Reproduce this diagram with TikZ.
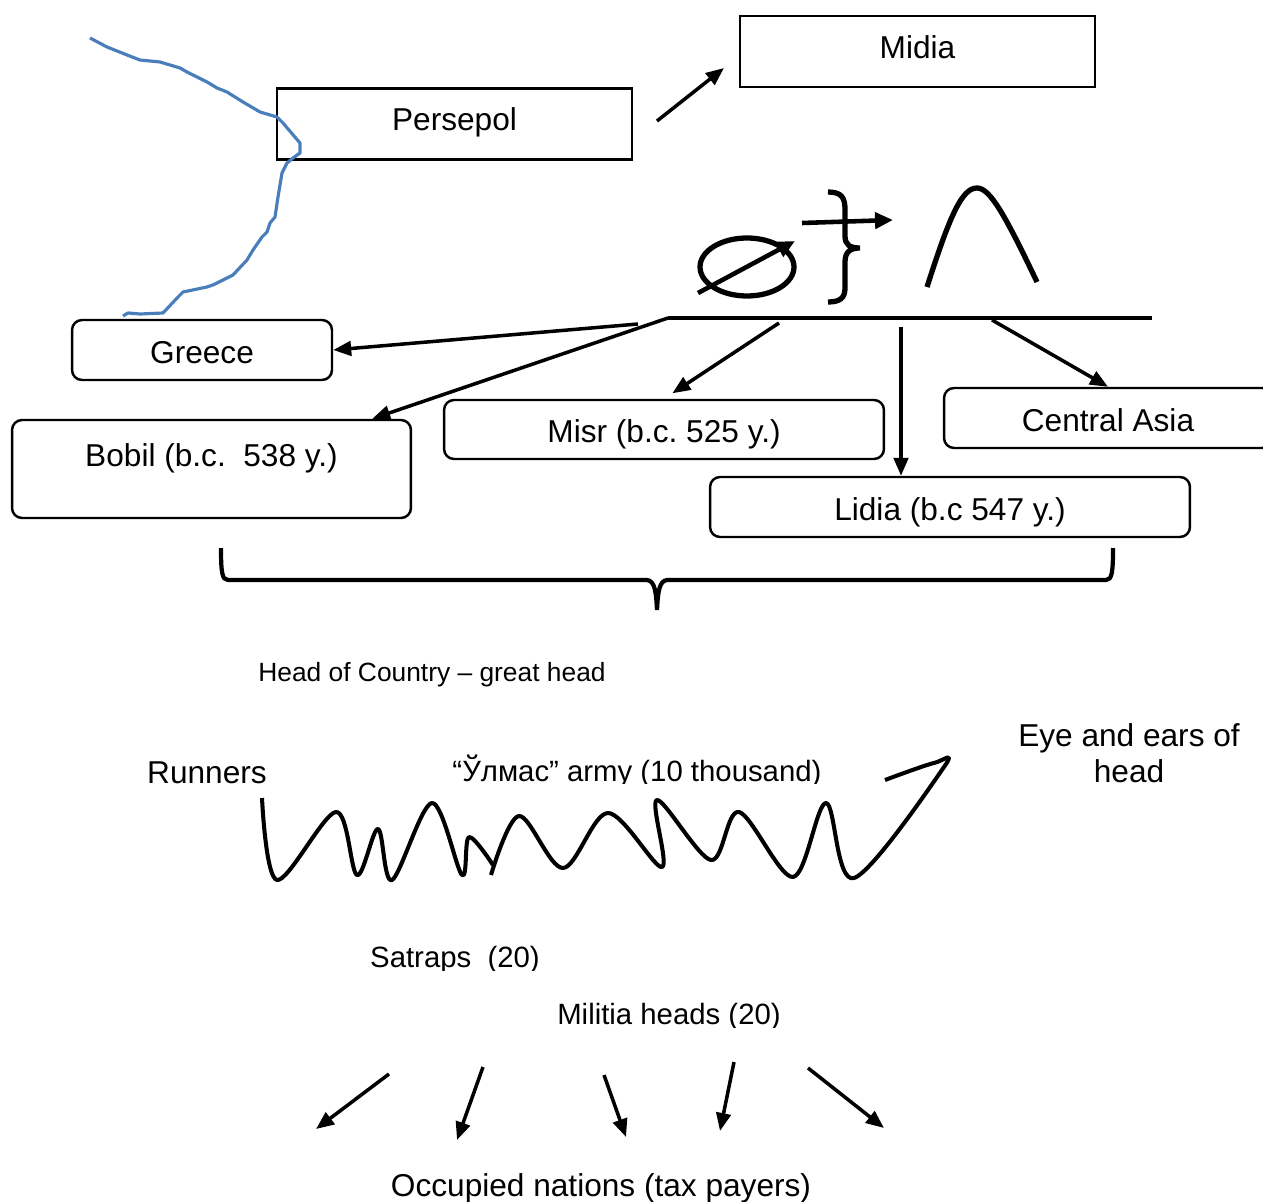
\documentclass[tikz,border=0pt]{standalone}
\usepackage{fontspec}
\setmainfont{Liberation Sans}
\usetikzlibrary{arrows.meta,positioning,calc}
\definecolor{river}{RGB}{74,126,187}
\frenchspacing

\begin{document}
\begin{tikzpicture}[
  x=0.02cm, y=-0.02cm,
  every node/.style={font=\fontsize{18}{21}\selectfont},
  sq/.style={draw,line width=1.5pt,minimum width=7.1cm,minimum height=1.42cm,text height=0.5cm,text depth=0.22cm},
  rbox/.style={draw,rounded corners=0.2cm,line width=1.4pt,minimum height=1.2cm,text height=0.66cm,text depth=0.12cm},
  lbl/.style={font=\fontsize{16.7}{20}\selectfont},
  ar/.style={-{Triangle[length=0.36cm,width=0.29cm]},line width=2pt},
  sym/.style={line width=3pt},
  symar/.style={line width=2.6pt,-{Triangle[length=0.36cm,width=0.32cm]}}
]
\useasboundingbox (0,0) rectangle (1263,1202);
\node[sq] (persepol) at (454.5,124) {Persepol};
\node[sq] (midia) at (917.5,51.5) {Midia};
\node[rbox,minimum width=5.2cm] (greece) at (202,350) {Greece};
\node[rbox,minimum width=7.98cm,minimum height=1.96cm,text height=0.5cm,text depth=0.6cm] (bobil) at (211.5,469) {Bobil (b.c.\ \ 538 y.)};
\node[rbox,minimum width=8.8cm,minimum height=1.18cm] (misr) at (664,429.5) {Misr (b.c. 525 y.)};
\node[rbox,minimum width=6.56cm] (casia) at (1108,418) {Central Asia};
\node[rbox,minimum width=9.6cm] (lidia) at (950,507) {Lidia (b.c 547 y.)};
\node[font=\fontsize{15}{18}\selectfont] (headc) at (432,675) {Head of Country – great head};
\node (runners) at (207,773) {Runners};
\node[align=center,font=\fontsize{18}{20.5}\selectfont] (eyes) at (1129,753) {Eye and ears of\\head};
\begin{scope}
\clip (0,0) rectangle (1263,783);
\node[lbl] (army) at (637,771) {“Ўлмас” army (10 thousand)};
\end{scope}
\begin{scope}
\clip (0,900) rectangle (1263,970);
\node[lbl] (satraps) at (455,960) {Satraps\ \ (20)};
\end{scope}
\begin{scope}
\clip (0,990) rectangle (1263,1027);
\node[lbl] (militia) at (669,1017) {Militia heads (20)};
\end{scope}
\node (occupied) at (601,1188) {Occupied nations (tax payers)};
\coordinate (pm) at (657,121);
\coordinate (mp) at (724,68);
\coordinate (bl) at (668,318);
\coordinate (br) at (1152,318);
\coordinate (sg) at (638,324);
\coordinate (sm) at (779,323);
\coordinate (sl) at (901,327);
\coordinate (sc) at (992,320);
\draw[ar] (pm) -- (mp);
\draw[line width=2.2pt] (bl) -- (br);
\draw[ar] (sg) -- (greece.east);
\draw[ar] (bl) -- ([xshift=-0.8cm]bobil.north east);
\draw[ar,shorten >=0.2cm] (sm) -- (misr.north);
\draw[ar] (sl) -- (sl |- lidia.north);
\draw[ar] (sc) -- (casia.north);
\draw[river,line width=1.8pt,line join=round] plot coordinates {(90,38) (107,47) (127,55) (140,60) (160,62) (180,68) (187,72) (207,82) (217,88) (227,92) (243,102) (260,112) (277,117) (283,123) (300,143) (300,153) (293,158) (287,163) (282,173) (278,197) (275,217) (270,223) (267,232) (262,237) (253,250) (247,260) (233,275) (213,285) (207,287) (183,292) (178,297) (163,313) (140,314) (128,313) (123,316)};
\draw[sym] (747,267) ellipse [x radius=0.94cm, y radius=0.58cm];
\coordinate (e1) at (698,293);
\coordinate (e2) at (795,241);
\draw[symar] (e1) -- (e2);
\coordinate (k1) at (802,223);
\coordinate (k2) at (893,220);
\draw[symar] (k1) -- (k2);
\draw[sym] (828,192) .. controls (842,192) and (845,198) .. (845,210) -- (845,236) .. controls (845,245) and (850,248) .. (860,248) .. controls (850,248) and (845,252) .. (845,262) -- (845,288) .. controls (845,298) and (840,302) .. (828,302);
\draw[sym] (927,287) .. controls (950,215) and (962,188) .. (977,188) .. controls (990,188) and (1005,215) .. (1037,282);
\draw[line width=2.4pt] (221,548) .. controls (221,572) and (222,580) .. (228,580) -- (647,580) .. controls (655,581) and (656,592) .. (657,610) .. controls (658,592) and (659,581) .. (667,580) -- (1106,580) .. controls (1112,580) and (1113,572) .. (1113,548);
\draw[line width=2.3pt,line join=round] plot[smooth,tension=0.55] coordinates {(262,798) (277,880) (336,812) (357,875) (378,829) (392,880) (432,803) (462,875) (469,837) (493,865)};
\draw[line width=2.3pt,line join=round] plot[smooth,tension=0.55] coordinates {(491,875) (519,816) (563,868) (608,813) (662,867) (657,800) (711,860) (739,812) (793,877) (826,803) (854,878) (944,767) (934,763) (885,780)};
\coordinate (t1) at (389,1074);
\coordinate (h1) at (316,1129);
\coordinate (t2) at (483,1067);
\coordinate (h2) at (457,1140);
\coordinate (t3) at (604,1075);
\coordinate (h3) at (626,1137);
\coordinate (t4) at (734,1062);
\coordinate (h4) at (720,1131);
\coordinate (t5) at (808,1068);
\coordinate (h5) at (884,1128);
\draw[ar] (t1) -- (h1);
\draw[ar] (t2) -- (h2);
\draw[ar] (t3) -- (h3);
\draw[ar] (t4) -- (h4);
\draw[ar] (t5) -- (h5);
\end{tikzpicture}
\end{document}
